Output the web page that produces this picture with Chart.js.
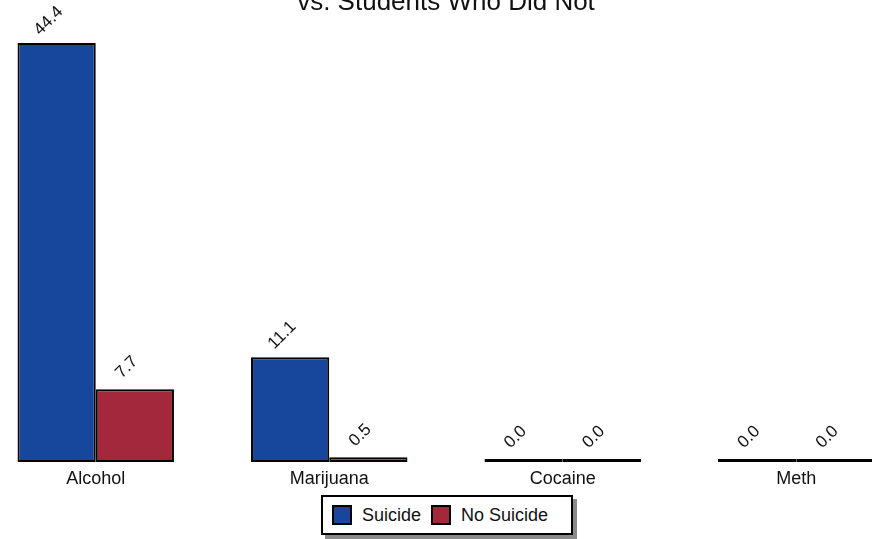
<!DOCTYPE html>
<html>
<head>
<meta charset="utf-8">
<script src="https://cdn.jsdelivr.net/npm/chart.js@4"></script>
<style>
  html, body { margin: 0; padding: 0; background: #fff; overflow: hidden; }
  body { width: 872px; height: 539px; position: relative; font-family: "Liberation Sans", Arial, sans-serif; }
  #wrap { position: absolute; left: -21px; top: -13px; width: 934px; height: 505px; }
  #legend {
    position: absolute; left: 321px; top: 495px; width: 248px; height: 36px;
    border: 2px solid #000; background: #fff; box-shadow: 4px 4px 0 #8a8a8a;
    display: flex; align-items: center; font-size: 18px; color: #111;
  }
  #legend .sw { width: 16px; height: 16px; border: 2px solid #000; display: inline-block; }
  #legend .item { display: flex; align-items: center; }
</style>
</head>
<body>
<div id="wrap"><canvas id="chart"></canvas></div>
<div id="legend"></div>
<script>
// ── datos ──
const categorias = ['Alcohol', 'Marijuana', 'Cocaine', 'Meth'];
const suicidio = [44.4, 11.1, 0.0, 0.0];
const noSuicidio = [7.7, 0.5, 0.0, 0.0];
const series = ['Suicide', 'No Suicide'];
const colores = ['#17479d', '#a3283b'];

// Etiquetas giradas sobre cada barra
const etiquetasValor = {
    id: 'etiquetasValor',
    afterDatasetsDraw(chart) {
        const { ctx } = chart;
        ctx.save();
        ctx.font = '17px "Liberation Sans", Arial, sans-serif';
        ctx.fillStyle = '#111';
        ctx.textAlign = 'center';
        ctx.textBaseline = 'middle';
        chart.data.datasets.forEach((ds, i) => {
            chart.getDatasetMeta(i).data.forEach((bar, j) => {
                const top = Math.min(bar.y, bar.base);
                ctx.save();
                ctx.translate(bar.x - 8, top - 22);
                ctx.rotate(-Math.PI / 4);
                ctx.fillText(ds.data[j].toFixed(1), 0, 0);
                ctx.restore();
            });
        });
        ctx.restore();
    }
};

new Chart(document.getElementById('chart'), {
    type: 'bar',
    data: {
        labels: categorias,
        datasets: [
            { label: series[0], data: suicidio, backgroundColor: colores[0] },
            { label: series[1], data: noSuicidio, backgroundColor: colores[1] }
        ]
    },
    options: {
        responsive: true,
        maintainAspectRatio: false,
        animation: false,
        datasets: {
            bar: {
                borderColor: '#000',
                borderWidth: 2,
                borderSkipped: false,
                minBarLength: 3,
                categoryPercentage: 0.67,
                barPercentage: 1.0
            }
        },
        layout: { padding: 0 },
        plugins: {
            legend: { display: false },
            tooltip: { enabled: false },
            title: {
                display: true,
                text: 'vs. Students Who Did Not',
                color: '#111',
                font: { size: 26, weight: 'normal', family: '"Liberation Sans", Arial, sans-serif' },
                padding: { top: 0, bottom: 24.8 }
            }
        },
        scales: {
            x: {
                grid: { display: false, drawTicks: false },
                border: { display: false },
                ticks: {
                    color: '#111',
                    padding: 6,
                    font: { size: 18, family: '"Liberation Sans", Arial, sans-serif' }
                },
                afterFit(scale) { scale.height = 30; }
            },
            y: {
                display: false,
                min: 0,
                max: 44.4
            }
        }
    },
    plugins: [etiquetasValor]
});

// Leyenda
const leyenda = document.getElementById('legend');
series.forEach((nombre, i) => {
    const item = document.createElement('span');
    item.className = 'item';
    item.style.marginLeft = i === 0 ? '9px' : '10px';
    item.innerHTML = '<span class="sw" style="background:' + colores[i] + '"></span>' +
        '<span style="margin-left:10px">' + nombre + '</span>';
    leyenda.appendChild(item);
});
</script>
</body>
</html>
